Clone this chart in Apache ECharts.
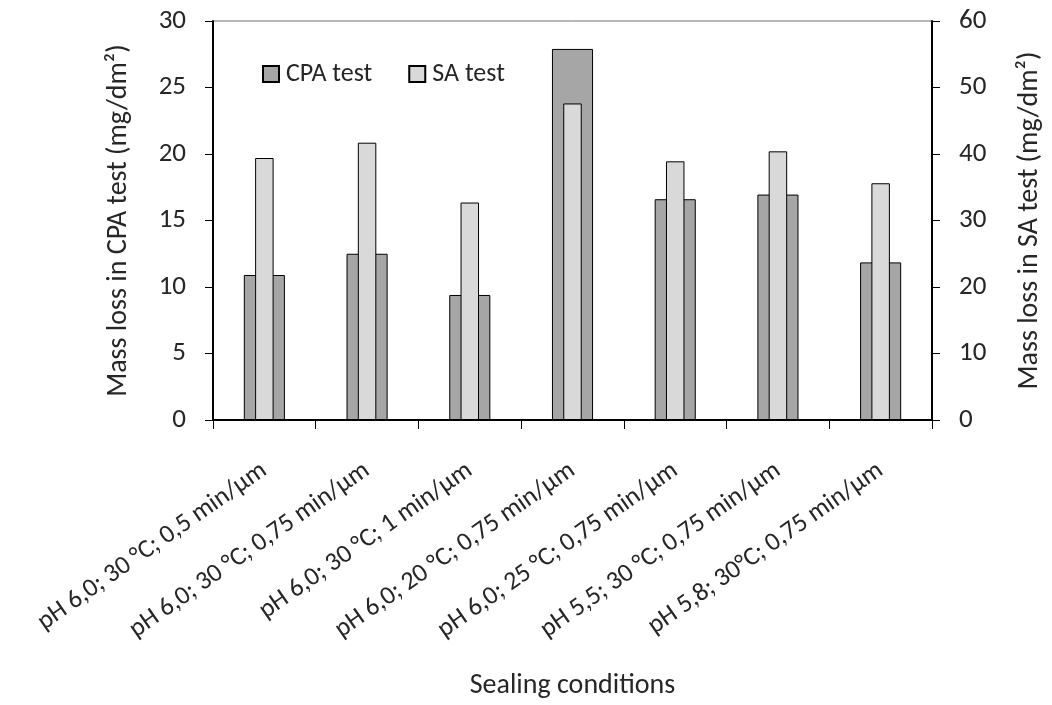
<!DOCTYPE html>
<html><head><meta charset="utf-8">
<script src="https://cdn.jsdelivr.net/npm/echarts@6/dist/echarts.min.js"></script>
<style>html,body{margin:0;padding:0;background:#fff}#c{width:1052px;height:705px}</style>
</head><body><div id="c"></div>
<script>
const categories = [
  'pH 6,0; 30 °C; 0,5 min/µm',
  'pH 6,0; 30 °C; 0,75 min/µm',
  'pH 6,0; 30 °C; 1 min/µm',
  'pH 6,0; 20 °C; 0,75 min/µm',
  'pH 6,0; 25 °C; 0,75 min/µm',
  'pH 5,5; 30 °C; 0,75 min/µm',
  'pH 5,8; 30°C; 0,75 min/µm'
];
const cpaValues = [10.9, 12.5, 9.4, 27.9, 16.6, 16.95, 11.85];
const saValues = [39.4, 41.7, 32.7, 47.6, 38.9, 40.4, 35.6];

const FONT = "Carlito, 'Liberation Sans', sans-serif";
const TXT = '#262626';
const chart = echarts.init(document.getElementById('c'));
chart.setOption({
  animation: false,
  backgroundColor: '#fff',
  textStyle: { fontFamily: FONT },
  legend: {
    left: 257, top: 56, itemWidth: 16, itemHeight: 16, itemGap: 36, icon: 'rect',
    textStyle: { fontSize: 26, color: TXT, fontFamily: FONT, padding: [0, 0, 0, 2] },
    data: ['CPA test', 'SA test']
  },
  grid: { left: 213, right: 117, top: 21, bottom: 283, show: true, borderColor: '#6e6e6e', borderWidth: 1 },
  xAxis: [{
    type: 'category', data: categories, boundaryGap: true,
    name: 'Sealing conditions', nameLocation: 'middle', nameGap: 252,
    nameTextStyle: { fontSize: 28, color: TXT, fontFamily: FONT },
    axisLine: { lineStyle: { color: '#000', width: 2 } },
    axisTick: { show: true, inside: false, length: 9, alignWithLabel: false, lineStyle: { color: '#000', width: 1 } },
    axisLabel: { rotate: 35, fontSize: 26, color: TXT, margin: 48, interval: 0, fontFamily: FONT }
  }, {
    type: 'category', data: categories, show: false
  }],
  yAxis: [{
    type: 'value', min: 0, max: 30, interval: 5, position: 'left',
    name: 'Mass loss in CPA test (mg/dm²)', nameLocation: 'middle', nameGap: 80,
    nameTextStyle: { fontSize: 28, color: TXT, fontFamily: FONT },
    axisLine: { show: true, lineStyle: { color: '#000', width: 2 } },
    axisTick: { show: true, length: 8, lineStyle: { color: '#000' } },
    splitLine: { show: false },
    axisLabel: { fontSize: 27, color: TXT, margin: 27, fontFamily: FONT }
  }, {
    type: 'value', min: 0, max: 60, interval: 10, position: 'right',
    name: 'Mass loss in SA test (mg/dm²)', nameLocation: 'middle', nameGap: 84, nameRotate: 90,
    nameTextStyle: { fontSize: 28, color: TXT, fontFamily: FONT },
    axisLine: { show: true, lineStyle: { color: '#000', width: 2 } },
    axisTick: { show: true, length: 8, lineStyle: { color: '#000' } },
    splitLine: { show: false },
    axisLabel: { fontSize: 27, color: TXT, margin: 27, fontFamily: FONT }
  }],
  series: [{
    name: 'CPA test', type: 'bar', xAxisIndex: 0, yAxisIndex: 0, data: cpaValues,
    barWidth: '40%',
    itemStyle: { color: '#a6a6a6', borderColor: '#000', borderWidth: 1 }
  }, {
    name: 'SA test', type: 'bar', xAxisIndex: 1, yAxisIndex: 1, data: saValues,
    barWidth: '18%',
    itemStyle: { color: '#d9d9d9', borderColor: '#000', borderWidth: 1 }
  }]
});
</script></body></html>
